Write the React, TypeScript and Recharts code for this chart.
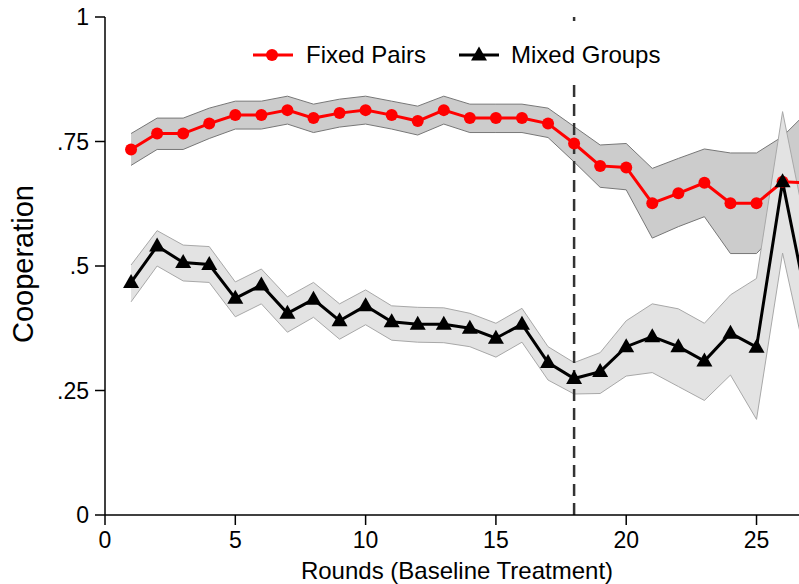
import React from 'react';
import {
  ComposedChart,
  Area,
  Line,
  XAxis,
  YAxis,
  ReferenceLine,
} from 'recharts';

const rounds = [
  1, 2, 3, 4, 5, 6, 7, 8, 9, 10, 11, 12, 13, 14, 15, 16, 17, 18, 19, 20, 21,
  22, 23, 24, 25, 26, 27,
];

const fixedMean = [
  0.734, 0.766, 0.766, 0.786, 0.803, 0.803, 0.813, 0.797, 0.807, 0.813, 0.803,
  0.791, 0.813, 0.797, 0.797, 0.797, 0.786, 0.746, 0.701, 0.698, 0.626, 0.646,
  0.667, 0.626, 0.626, 0.669, 0.667,
];
const fixedLow = [
  0.702, 0.734, 0.734, 0.756, 0.775, 0.775, 0.785, 0.768, 0.779, 0.785, 0.775,
  0.763, 0.785, 0.768, 0.768, 0.768, 0.758, 0.709, 0.658, 0.653, 0.556, 0.579,
  0.599, 0.525, 0.525, 0.58, 0.53,
];
const fixedHigh = [
  0.766, 0.797, 0.797, 0.817, 0.831, 0.831, 0.841, 0.825, 0.835, 0.841, 0.831,
  0.821, 0.841, 0.825, 0.825, 0.825, 0.817, 0.78, 0.743, 0.746, 0.696, 0.716,
  0.735, 0.727, 0.727, 0.76, 0.812,
];

const mixedMean = [
  0.467, 0.54, 0.507, 0.503, 0.435, 0.462, 0.405, 0.433, 0.39, 0.42, 0.388,
  0.383, 0.383, 0.375, 0.355, 0.383, 0.306, 0.274, 0.288, 0.338, 0.358, 0.338,
  0.309, 0.365, 0.337, 0.669, 0.41,
];
const mixedLow = [
  0.428, 0.5, 0.47, 0.467, 0.398, 0.424, 0.367, 0.397, 0.353, 0.382, 0.351,
  0.347, 0.346, 0.338, 0.317, 0.347, 0.271, 0.243, 0.244, 0.279, 0.286, 0.258,
  0.23, 0.281, 0.192, 0.526, 0.288,
];
const mixedHigh = [
  0.502, 0.571, 0.542, 0.539, 0.468, 0.494, 0.438, 0.467, 0.424, 0.452, 0.42,
  0.417, 0.416, 0.405, 0.385, 0.415, 0.338, 0.306, 0.326, 0.39, 0.424, 0.414,
  0.385, 0.442, 0.475, 0.81, 0.55,
];

const xTicks = [0, 5, 10, 15, 20, 25];
const yTicks = [0, 0.25, 0.5, 0.75, 1];
const treatmentRound = 18;

const data = rounds.map((r, i) => ({
  round: r,
  fixed: fixedMean[i],
  fixedBand: [fixedLow[i], fixedHigh[i]],
  mixed: mixedMean[i],
  mixedBand: [mixedLow[i], mixedHigh[i]],
}));

const FONT = '"Liberation Sans", Arial, Helvetica, sans-serif';

const fmtY = (v: number) => (v === 0 ? '0' : v === 1 ? '1' : String(v).replace(/^0/, ''));

const Triangle = (props: any) => {
  const { cx, cy, index } = props;
  if (cx == null || cy == null) return null;
  return (
    <polygon
      key={`tri-${index}`}
      points={`${cx},${cy - 8.5} ${cx - 8},${cy + 5.5} ${cx + 8},${cy + 5.5}`}
      fill="#000"
    />
  );
};

// legend sits in a white box over the plot, like the original
const LegendBox = () => (
  <div
    style={{
      position: 'absolute',
      left: 240,
      top: 27,
      width: 430,
      height: 56,
      background: '#fff',
      display: 'flex',
      alignItems: 'center',
      paddingLeft: 13,
      boxSizing: 'border-box',
      fontFamily: FONT,
      fontSize: 24,
      color: '#000',
      lineHeight: '24px',
    }}
  >
    <svg width={40} height={20} style={{ marginRight: 13 }}>
      <line x1={0} y1={10} x2={40} y2={10} stroke="#ff0000" strokeWidth={3} />
      <circle cx={19} cy={10} r={6} fill="#ff0000" />
    </svg>
    <span>Fixed Pairs</span>
    <svg width={40} height={20} style={{ marginLeft: 33, marginRight: 12 }}>
      <line x1={0} y1={10} x2={40} y2={10} stroke="#000" strokeWidth={3} />
      <polygon points="20,1.5 12,15.5 28,15.5" fill="#000" />
    </svg>
    <span>Mixed Groups</span>
  </div>
);

export default function App() {
  return (
    <div style={{ position: 'absolute', left: 0, top: 0, width: 799, height: 584, background: '#fff' }}>
      <ComposedChart
        width={799}
        height={584}
        data={data}
        margin={{ top: 17, right: 0, bottom: 0, left: 0 }}
        style={{ fontFamily: FONT }}
      >
        <XAxis
          dataKey="round"
          type="number"
          domain={[0, 26.63]}
          allowDataOverflow
          ticks={xTicks}
          interval={0}
          height={69}
          tickSize={10}
          tickMargin={7}
          tick={{ fontSize: 23, fill: '#000', fontFamily: FONT }}
          axisLine={{ stroke: '#000', strokeWidth: 1.5 }}
          tickLine={{ stroke: '#000', strokeWidth: 1.5 }}
          label={{
            content: (p: any) => {
              const vb = p.viewBox;
              return (
                <text
                  x={vb.x + vb.width / 2 + 5}
                  y={vb.y + vb.height - 5}
                  textAnchor="middle"
                  fontSize={24}
                  fontFamily={FONT}
                  fill="#000"
                >
                  Rounds (Baseline Treatment)
                </text>
              );
            },
          }}
        />
        <YAxis
          type="number"
          domain={[0, 1]}
          ticks={yTicks}
          interval={0}
          width={105}
          tickSize={10}
          tickMargin={6}
          tickFormatter={fmtY}
          tick={{ fontSize: 23, fill: '#000', fontFamily: FONT }}
          axisLine={{ stroke: '#000', strokeWidth: 1.5 }}
          tickLine={{ stroke: '#000', strokeWidth: 1.5 }}
          label={{
            content: (p: any) => {
              const vb = p.viewBox;
              const x = vb.x + 33;
              const y = vb.y + vb.height / 2 - 2;
              return (
                <text
                  x={x}
                  y={y}
                  transform={`rotate(-90, ${x}, ${y})`}
                  textAnchor="middle"
                  fontSize={29}
                  fontFamily={FONT}
                  fill="#000"
                >
                  Cooperation
                </text>
              );
            },
          }}
        />
        <Area
          dataKey="fixedBand"
          type="linear"
          fill="#cccccc"
          fillOpacity={1}
          stroke="#777777"
          strokeWidth={1}
          isAnimationActive={false}
          activeDot={false}
        />
        <Area
          dataKey="mixedBand"
          type="linear"
          fill="#e3e3e3"
          fillOpacity={1}
          stroke="#a8a8a8"
          strokeWidth={1}
          isAnimationActive={false}
          activeDot={false}
        />
        <ReferenceLine
          x={treatmentRound}
          stroke="#333333"
          strokeWidth={2.5}
          strokeDasharray="12 7"
        />
        <Line
          dataKey="fixed"
          type="linear"
          stroke="#ff0000"
          strokeWidth={3}
          dot={{ r: 6, fill: '#ff0000', stroke: 'none' }}
          activeDot={false}
          isAnimationActive={false}
        />
        <Line
          dataKey="mixed"
          type="linear"
          stroke="#000000"
          strokeWidth={3}
          dot={<Triangle />}
          activeDot={false}
          isAnimationActive={false}
        />
      </ComposedChart>
      <LegendBox />
    </div>
  );
}
